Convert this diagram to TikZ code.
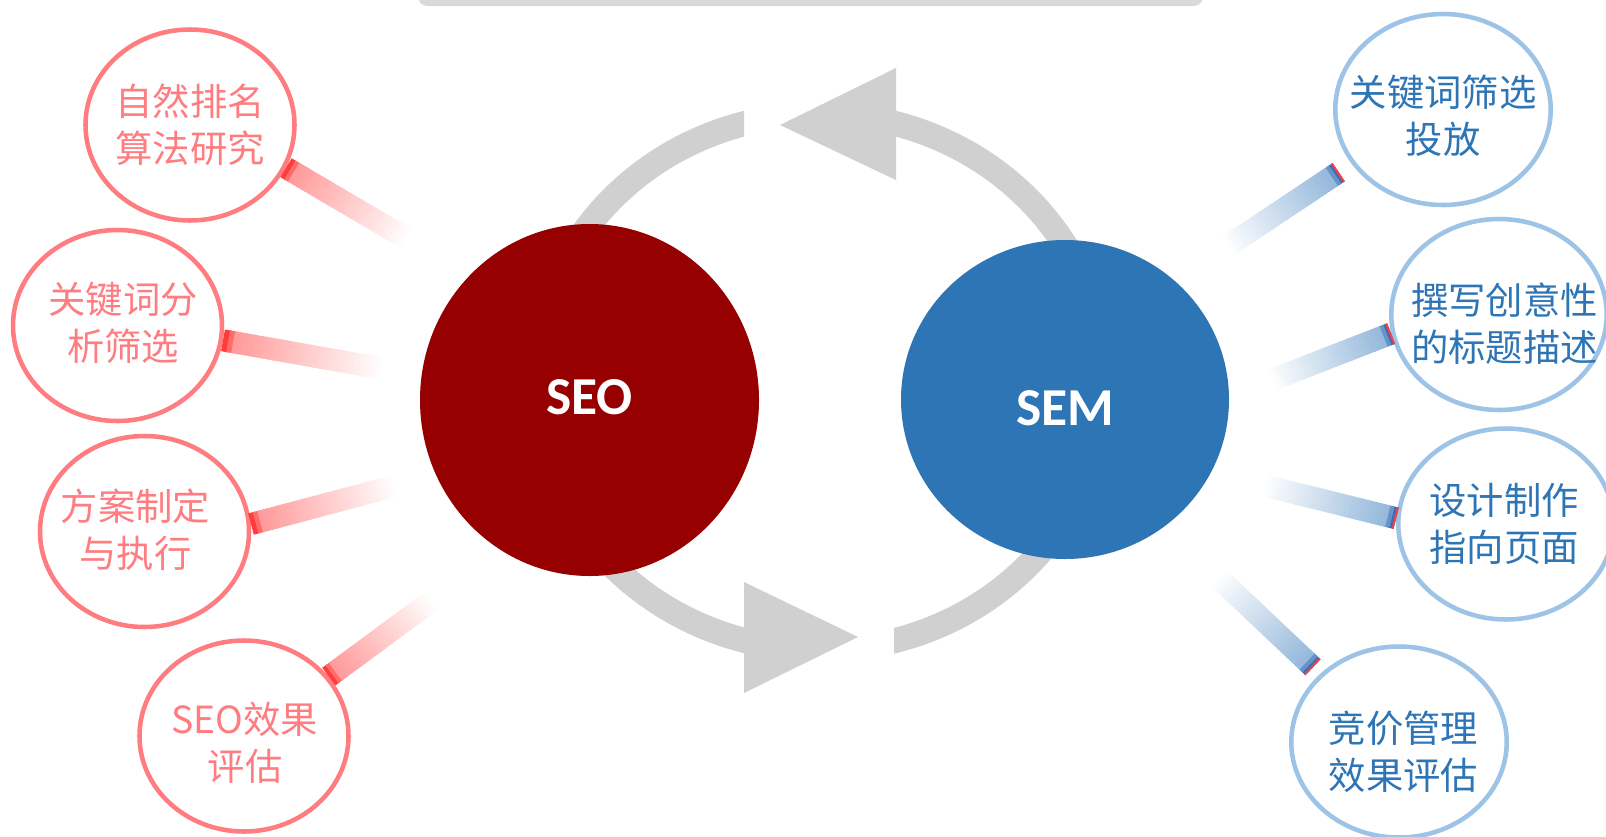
\documentclass[tikz,border=0pt]{standalone}
\usepackage{fontspec}
\usetikzlibrary{shapes.geometric,calc}
\newfontfamily\cjkfont{Noto Sans CJK SC}
\newfontfamily\hubfont{Carlito}
\definecolor{seored}{RGB}{150,0,0}
\definecolor{semblue}{RGB}{46,117,182}
\definecolor{pinkline}{RGB}{255,124,128}
\definecolor{blueline}{RGB}{157,195,230}
\definecolor{cyclegray}{RGB}{208,208,208}
\definecolor{topgray}{RGB}{217,217,217}
\definecolor{tipred}{RGB}{255,60,60}
\definecolor{pinkbar}{RGB}{255,155,155}
\definecolor{tipblue}{RGB}{55,110,180}
\definecolor{bluebar}{RGB}{150,185,220}
\tikzset{every picture/.style={line width=0.75pt},
	hub/.style={ellipse,inner sep=0pt,text depth=0pt,text=white,font=\hubfont\bfseries\fontsize{40}{44}\selectfont},
	leaf/.style={ellipse,inner sep=0pt,fill=white,line width=3.4pt,minimum height=143.25pt},
	seoleaf/.style={leaf,draw=pinkline,minimum width=156.75pt},
	semleaf/.style={leaf,draw=blueline,minimum width=161.6pt},
	leaftext/.style={align=center,inner sep=0pt,font=\cjkfont\fontsize{28}{35.25}\selectfont},
	seotext/.style={leaftext,text=pinkline},
	semtext/.style={leaftext,text=semblue},
	cycarc/.style={cyclegray,line width=18.75pt}
}
\begin{document}
\begin{tikzpicture}[x=0.75pt,y=0.75pt,yscale=-1,xscale=1]
	\useasboundingbox[fill=white] (0,0) rectangle (1606,836);
	\fill[topgray,rounded corners=7pt] (418,-30) rectangle (1203,6);
	% cycle arrows behind the two hubs
	\coordinate (cyc) at (820,382);
	\begin{scope}
		\clip (894,0) rectangle (1606,836);
		\draw[cycarc] ($(cyc)+(80:285 and 268)$) arc[start angle=80,end angle=-76,x radius=285,y radius=268];
	\end{scope}
	\fill[cyclegray] (896,68) -- (780,125) -- (896,180) -- cycle;
	\begin{scope}
		\clip (0,0) rectangle (744,836);
		\draw[cycarc] ($(cyc)+(-100:285 and 268)$) arc[start angle=-100,end angle=-256,x radius=285,y radius=268];
	\end{scope}
	\fill[cyclegray] (744,582) -- (858,637) -- (744,693) -- cycle;
	
	\node[hub,fill=seored,minimum width=254.25pt,minimum height=264pt,text height=21pt] (seo) at (589.5,400) {SEO};
	\node[hub,fill=semblue,minimum width=246pt,minimum height=239.25pt,text height=39.5pt] (sem) at (1065,399.5) {SEM};
	
	\node[seoleaf] (l1) at (190,125) {};
	\node[seoleaf] (l2) at (117.5,325.5) {};
	\node[seoleaf] (l3) at (144.5,531.5) {};
	\node[seoleaf] (l4) at (244,736) {};
	\node[semleaf] (r1) at (1443,109.5) {};
	\node[semleaf] (r2) at (1499,314.5) {};
	\node[semleaf] (r3) at (1506,524) {};
	\node[semleaf] (r4) at (1399,742) {};
	
	\node[seotext] (l1t) at (l1) {自然排名\\算法研究};
	\node[seotext] (l2t) at ($(l2)+(5.5,-3)$) {关键词分\\析筛选};
	\node[seotext] (l3t) at ($(l3)+(-9,-2)$) {方案制定\\与执行};
	\node[seotext] (l4t) at ($(l4)+(1,7)$) {SEO效果\\评估};
	\node[semtext] (r1t) at ($(r1)+(0,6.5)$) {关键词筛选\\投放};
	\node[semtext] (r2t) at ($(r2)+(5.5,9.5)$) {撰写创意性\\的标题描述};
	\node[semtext] (r3t) at ($(r3)+(-2,0)$) {设计制作\\指向页面};
	\node[semtext] (r4t) at ($(r4)+(4.5,10)$) {竞价管理\\效果评估};
	
	% faded ends of the links
	\coordinate (q1) at (409,240);
	\coordinate (q2) at (385,369);
	\coordinate (q3) at (398,485);
	\coordinate (q4) at (434,599);
	\coordinate (q5) at (1225,248);
	\coordinate (q6) at (1269,381);
	\coordinate (q7) at (1262,485);
	\coordinate (q8) at (1216,575.5);
	\coordinate (p5) at ($(r1.-149)!-11.5pt!(r1.center)$);
	\coordinate (p8) at ($(r4.139.5)!-7.3pt!(r4.center)$);
	
	\foreach \st/\en in {l1.-24/q1,l2.-8/q2,l3.4/q3,l4.35/q4}{
		\foreach \i in {0,...,31}{
			\pgfmathsetmacro\ta{\i/32}\pgfmathsetmacro\tb{min(1,(\i+1.5)/32)}\pgfmathsetmacro\tv{100*(31-\i)/29}
			\ifnum\i<2 \edef\barcol{tipred!\the\numexpr100-50*\i\relax!pinkbar}\else\edef\barcol{pinkbar!\tv!white}\fi
			\draw[line width=16.5pt,\barcol] ($(\st)!\ta!(\en)$) -- ($(\st)!\tb!(\en)$);
		}
	}
	\foreach \st/\en in {p5/q5,r2.190/q6,r3.177/q7,p8/q8}{
		\foreach \i in {0,...,31}{
			\pgfmathsetmacro\ta{\i/32}\pgfmathsetmacro\tb{min(1,(\i+1.5)/32)}\pgfmathsetmacro\tv{100*(31-\i)/29}
			\ifnum\i<2 \edef\barcol{tipblue!\the\numexpr100-50*\i\relax!bluebar}\else\edef\barcol{bluebar!\tv!white}\fi
			\draw[line width=16.5pt,\barcol] ($(\st)!\ta!(\en)$) -- ($(\st)!\tb!(\en)$);
		}
		\draw[line width=16.5pt,tipred] (\st) -- ($(\st)!1.5pt!(\en)$);
	}
\end{tikzpicture}
\end{document}
